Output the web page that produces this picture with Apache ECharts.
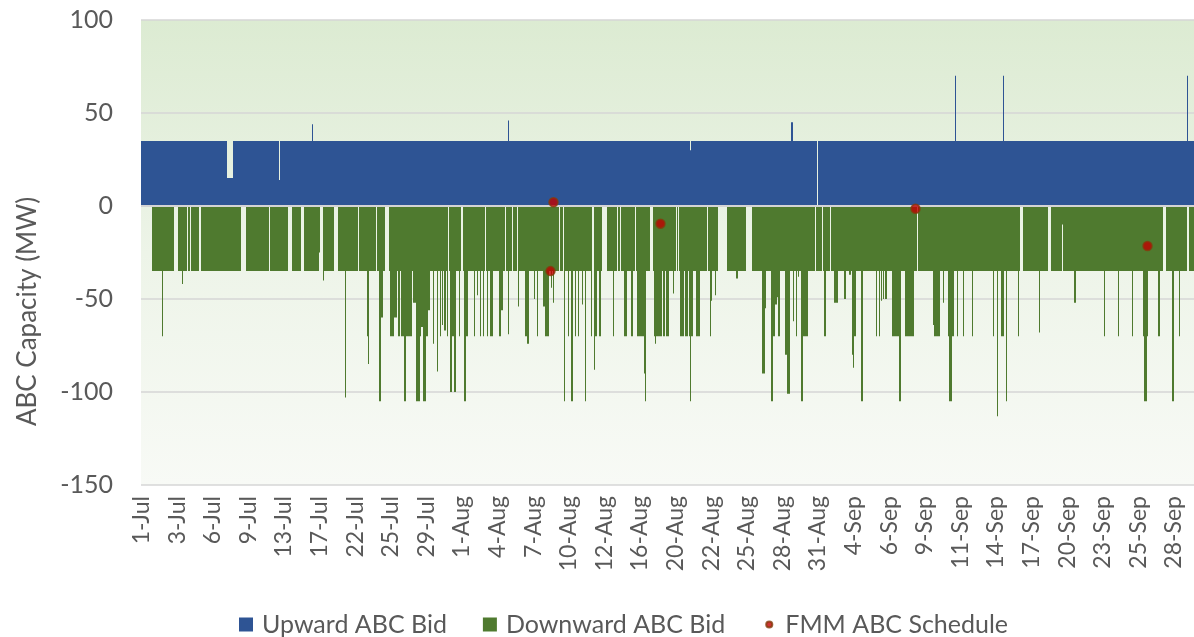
<!DOCTYPE html>
<html>
<head>
<meta charset="utf-8">
<script src="https://cdn.jsdelivr.net/npm/echarts@6/dist/echarts.min.js"></script>
<style>
html, body { margin: 0; padding: 0; background: #fff; }
#chart { width: 1194px; height: 637px; }
</style>
</head>
<body>
<div id="chart"></div>
<script>
// hourly samples along the category axis
const sampleCount = 1053
const samplesPerLabel = 35.6
const tickLabels = ['1-Jul', '3-Jul', '6-Jul', '9-Jul', '13-Jul', '17-Jul', '22-Jul', '25-Jul', '29-Jul',
  '1-Aug', '4-Aug', '7-Aug', '10-Aug', '12-Aug', '16-Aug', '20-Aug', '22-Aug', '25-Aug', '28-Aug', '31-Aug',
  '4-Sep', '6-Sep', '9-Sep', '11-Sep', '14-Sep', '17-Sep', '20-Sep', '23-Sep', '25-Sep', '28-Sep']

// runs of [firstSample, lastSample, MW]; later runs overwrite earlier ones
const upwardBid = [
  [0, 1052, 35], [86, 91, 15], [138, 138, 14], [171, 171, 44], [367, 367, 46], [549, 549, 30],
  [650, 651, 45], [676, 676, null], [814, 814, 70], [862, 862, 70], [1046, 1046, 70]
]

const downwardBlocks = [
  [11, 32, -35], [37, 45, -35], [47, 48, -35], [50, 57, -35], [60, 99, -35], [105, 127, -35], [129, 146, -35],
  [151, 159, -35], [163, 178, -35], [182, 192, -35], [197, 216, -35], [218, 234, -35], [236, 243, -35],
  [248, 306, -35], [308, 319, -35], [322, 343, -35], [345, 363, -35], [365, 370, -35], [372, 375, -35],
  [377, 417, -35], [419, 421, -35], [423, 450, -35], [453, 460, -35], [466, 475, -35], [477, 478, -35],
  [480, 493, -35], [495, 508, -35], [512, 534, -35], [536, 536, -35], [538, 565, -35], [567, 576, -35],
  [586, 604, -35], [611, 673, -35], [675, 680, -35], [682, 688, -35], [690, 775, -35], [777, 878, -35],
  [882, 906, -35], [910, 920, -35], [922, 1021, -35], [1025, 1045, -35], [1048, 1052, -35]
]

const downwardSpikes = [
  [21, 21, -70], [41, 41, -42], [178, 178, -25], [182, 182, -40], [204, 204, -103],
  [226, 226, -70], [227, 227, -85], [238, 239, -105], [240, 241, -60],
  [249, 252, -70], [253, 255, -60], [257, 258, -70], [260, 262, -70], [263, 264, -105], [265, 270, -70],
  [272, 274, -52], [275, 278, -105], [279, 279, -70], [280, 281, -65], [282, 284, -105], [285, 286, -70],
  [287, 288, -56], [292, 292, -74], [296, 296, -89], [299, 299, -70], [301, 301, -64], [303, 304, -67],
  [306, 306, -70], [309, 310, -100], [311, 312, -70], [313, 314, -100], [318, 318, -70], [323, 324, -105],
  [325, 326, -70], [333, 333, -70], [336, 336, -48], [339, 339, -70], [342, 342, -70], [346, 346, -70],
  [349, 351, -70], [358, 359, -70], [360, 361, -56], [367, 367, -69], [377, 377, -54], [384, 385, -70],
  [386, 387, -74], [393, 393, -50], [396, 396, -70], [402, 403, -54], [404, 407, -70], [410, 410, -44],
  [412, 412, -52], [423, 423, -105], [427, 427, -70], [430, 431, -105], [434, 434, -70], [437, 437, -70],
  [441, 441, -53], [444, 444, -105], [450, 450, -70], [453, 453, -88], [454, 455, -70], [458, 459, -70],
  [472, 472, -70], [483, 485, -70], [490, 491, -70], [496, 501, -70], [502, 502, -70], [503, 503, -90],
  [504, 504, -105],
  [513, 520, -70], [514, 514, -74], [522, 523, -70], [525, 527, -70], [532, 532, -47], [539, 542, -70],
  [544, 546, -70], [548, 551, -70], [549, 549, -105], [555, 558, -70], [569, 569, -70], [570, 570, -51],
  [574, 574, -48], [595, 596, -39], [621, 623, -90], [624, 624, -55], [630, 631, -105], [632, 633, -70],
  [634, 635, -53], [636, 636, -49], [637, 638, -70], [644, 645, -80], [646, 648, -101], [652, 652, -62],
  [655, 655, -70], [657, 657, -38], [660, 661, -105], [662, 666, -70], [683, 684, -70], [693, 696, -52],
  [703, 704, -50], [708, 709, -37], [711, 711, -80], [712, 712, -87], [713, 714, -70], [720, 721, -105],
  [735, 735, -70], [738, 738, -70], [740, 740, -51], [742, 742, -50], [744, 745, -50], [751, 757, -70],
  [758, 759, -105], [764, 767, -70], [768, 772, -70],
  [792, 792, -64], [793, 798, -70], [802, 802, -52], [807, 812, -70], [808, 810, -105], [816, 816, -70],
  [822, 822, -70], [831, 831, -70], [852, 852, -70], [856, 856, -113], [860, 862, -70], [865, 865, -105],
  [877, 877, -70], [898, 898, -68], [921, 921, -10], [933, 934, -52], [963, 963, -70], [977, 977, -70],
  [991, 991, -70], [1002, 1006, -70], [1003, 1005, -105], [1017, 1018, -70], [1031, 1032, -105],
  [1038, 1038, -70]
]

// [sample, MW]
const fmmSchedule = [[409, -35], [412, 2], [519, -9.5], [774, -1.5], [1006, -21.5]]

const fillRuns = (runs) => {
  const out = new Array(sampleCount).fill(null)
  runs.forEach(([a, b, v]) => {
    for (let i = a; i <= b; i++) out[i] = v
  })
  return out
}

const labelAt = {}
tickLabels.forEach((t, k) => { labelAt[Math.round(k * samplesPerLabel)] = t })
const categories = []
let current = tickLabels[0]
for (let i = 0; i < sampleCount; i++) {
  if (labelAt[i]) current = labelAt[i]
  categories.push(current)
}

const font = 'Lato'
const grey = '#595959'

const chart = echarts.init(document.getElementById('chart'))

chart.setOption({
  animation: false,
  textStyle: { fontFamily: font },
  grid: {
    left: 141,
    right: 0,
    top: 20,
    bottom: 152,
    show: true,
    borderWidth: 0,
    backgroundColor: new echarts.graphic.LinearGradient(0, 0, 0, 1, [
      { offset: 0, color: '#dcebd2' },
      { offset: 0.5, color: '#edf4e8' },
      { offset: 1, color: '#f8faf6' }
    ])
  },
  legend: {
    top: 607,
    left: 234,
    itemWidth: 14,
    itemHeight: 14,
    itemGap: 36,
    textStyle: { fontFamily: font, fontSize: 25, color: grey, padding: [0, 0, 0, 4] },
    data: [
      { name: 'Upward ABC Bid', icon: 'rect' },
      { name: 'Downward ABC Bid', icon: 'rect' },
      { name: 'FMM ABC Schedule', icon: 'path://M0,0M16,16M4.5,8a3.5,3.5 0 1,0 7,0a3.5,3.5 0 1,0 -7,0Z' }
    ]
  },
  xAxis: {
    type: 'category',
    data: categories,
    boundaryGap: true,
    axisLine: { show: false },
    axisTick: { show: false },
    splitLine: { show: false },
    axisLabel: {
      interval: (idx) => labelAt[idx] !== undefined,
      rotate: 90,
      margin: 11,
      fontFamily: font,
      fontSize: 23,
      color: grey
    }
  },
  yAxis: {
    type: 'value',
    min: -150,
    max: 100,
    interval: 50,
    name: 'ABC Capacity (MW)',
    nameLocation: 'middle',
    nameRotate: 90,
    nameGap: 100,
    nameTextStyle: { fontFamily: font, fontSize: 26, color: grey, padding: [0, 118, 0, 0] },
    axisLine: { show: false },
    axisTick: { show: false },
    axisLabel: { fontFamily: font, fontSize: 25, color: grey, margin: 28 },
    splitLine: { lineStyle: { color: '#d6d6d6', width: 1.5 } }
  },
  series: [
    {
      name: 'Upward ABC Bid',
      type: 'bar',
      data: fillRuns(upwardBid),
      barCategoryGap: '0%',
      barGap: '-100%',
      itemStyle: { color: '#2e5494' }
    },
    {
      name: 'Downward ABC Bid',
      type: 'bar',
      data: fillRuns(downwardBlocks.concat(downwardSpikes)),
      barCategoryGap: '0%',
      barGap: '-100%',
      itemStyle: { color: '#4f7a2f' },
      markLine: {
        silent: true,
        symbol: 'none',
        label: { show: false },
        lineStyle: { color: '#d4d4d4', width: 2, type: 'solid' },
        data: [{ yAxis: 0 }]
      }
    },
    {
      name: 'FMM ABC Schedule',
      type: 'scatter',
      data: fmmSchedule,
      symbolSize: 9,
      z: 5,
      itemStyle: { color: '#c00000', borderColor: '#843c0c', borderWidth: 1.5 }
    }
  ]
})

window.addEventListener('resize', () => {
  chart.resize()
})
</script>
</body>
</html>
